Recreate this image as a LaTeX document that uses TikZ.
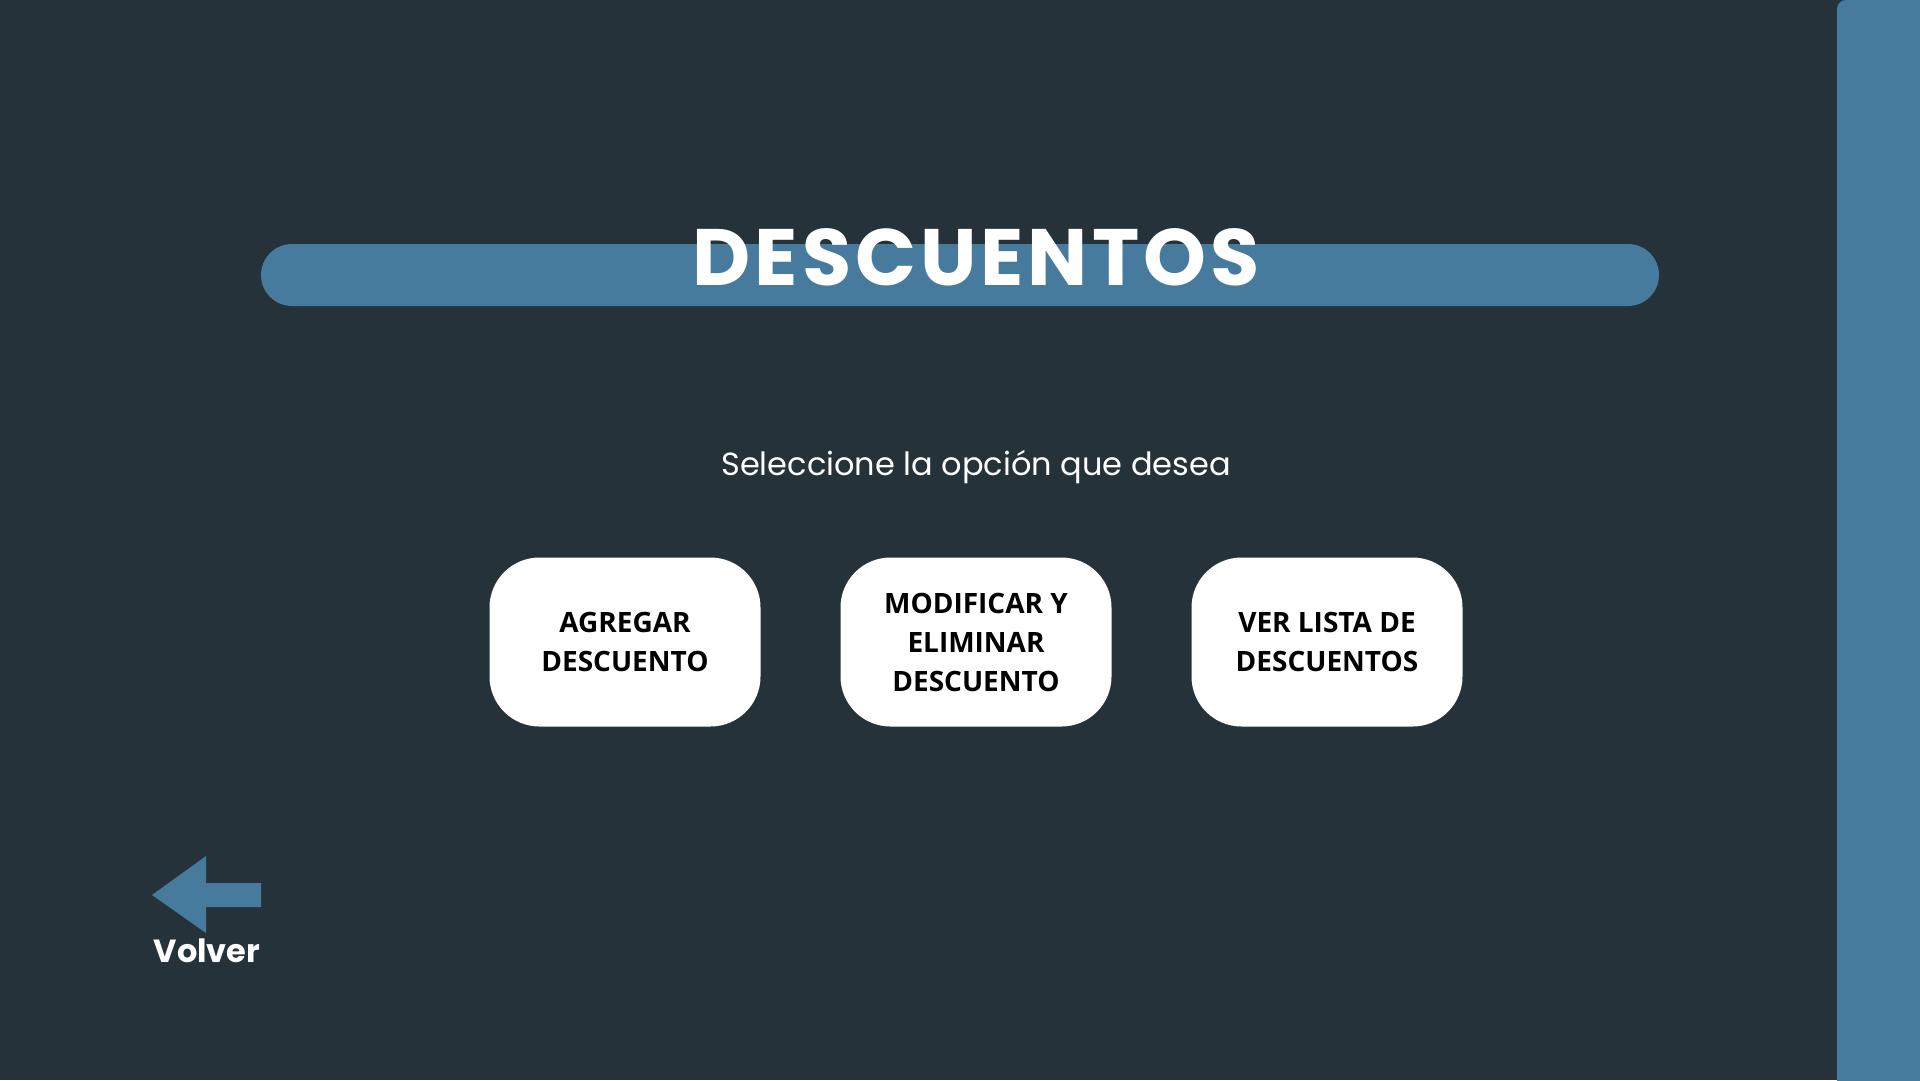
\documentclass[tikz,border=0pt]{standalone}
\usepackage{fontspec}
\setmainfont{Poppins}
\newfontfamily\opensans{Open Sans}
\usetikzlibrary{positioning}
\definecolor{bgdark}{HTML}{253239}
\definecolor{steelblue}{HTML}{467B9E}
\begin{document}
\begin{tikzpicture}[x=1pt,y=-1pt,every node/.style={align=center,inner sep=0},
titlebar/.style={fill=steelblue,minimum width=1398pt,minimum height=62pt,rounded corners=31pt},
option/.style={fill=white,minimum width=271pt,minimum height=169pt,rounded corners=50pt,font=\opensans\bfseries\fontsize{28}{39}\selectfont,text=black},]

\fill[bgdark] (0,0) rectangle (1920,1080);
\useasboundingbox (0,0) rectangle (1920,1080);
\fill[steelblue,rounded corners=9pt] (1837,0) rectangle (1950,1110);

\node[titlebar] (bar) at (960,275) {};
\node[anchor=base,text=white,font=\bfseries\fontsize{80}{80}\selectfont\addfontfeatures{LetterSpace=5}] (title) at (976,285) {DESCUENTOS};
\node[text=white,font=\fontsize{32}{32}\selectfont] (prompt) at (976,467) {Seleccione la opción que desea};

\node[option] (add) at (625,642) {AGREGAR\\DESCUENTO};
\node[option] (edit) at (976,642) {MODIFICAR Y\\ELIMINAR\\DESCUENTO};
\node[option] (list) at (1327,642) {VER LISTA DE\\DESCUENTOS};

\fill[steelblue] (152,895) -- (206,856) -- (206,883) -- (261,883) -- (261,907) -- (206,907) -- (206,933) -- cycle;
\node[anchor=base,text=white,font=\bfseries\fontsize{32}{32}\selectfont] (back) at (207,962) {Volver};

\end{tikzpicture}
\end{document}
